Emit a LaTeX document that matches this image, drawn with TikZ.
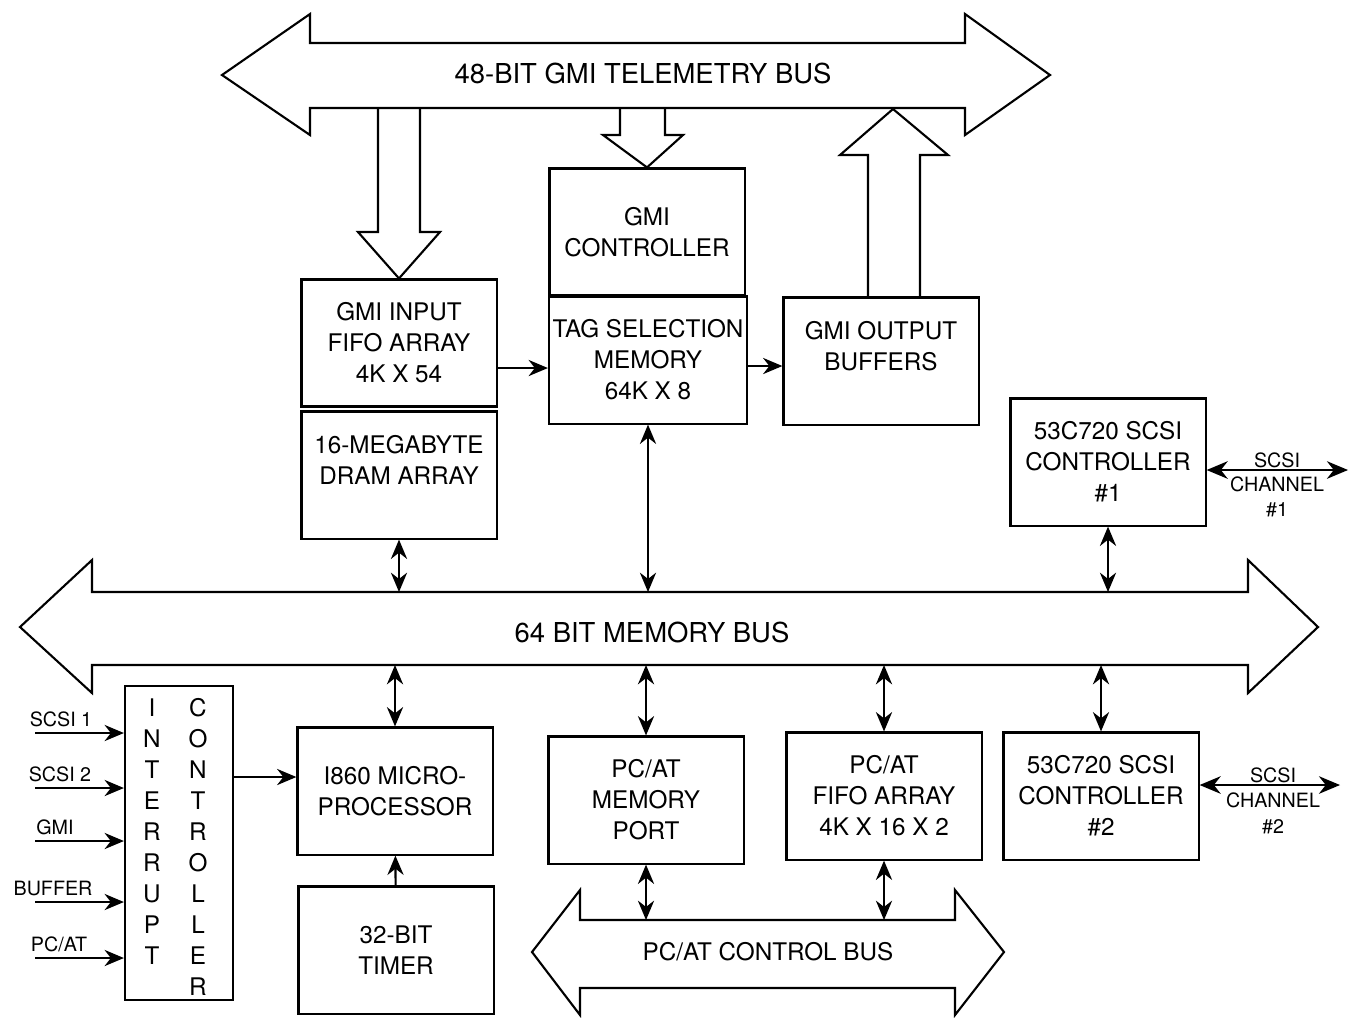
\documentclass[tikz,border=0pt]{standalone}
\usepackage{fontspec}
\setmainfont{TeX Gyre Heros}
\usetikzlibrary{arrows.meta}
\tikzset{
  blockbox/.style={draw, line width=0.6pt, minimum width=1.95cm, minimum height=1.27cm,
    inner sep=1pt, align=center, font=\fontsize{6.9}{8.8}\selectfont},
  boxtext/.style={inner sep=0pt, font=\fontsize{6.9}{8.8}\selectfont},
  busline/.style={line width=0.6pt, line join=miter},
  link/.style={line width=0.6pt, -{Stealth[length=5.5pt,width=4.6pt]}},
  duplex/.style={line width=0.6pt, {Stealth[length=5.5pt,width=4.6pt]}-{Stealth[length=5.5pt,width=4.6pt]}},
  channel/.style={line width=0.6pt, {Stealth[length=6pt,width=5pt]}-{Stealth[length=6pt,width=5pt]}},
  buslabel/.style={inner sep=0pt, font=\fontsize{7.8}{9}\selectfont},
  smalllabel/.style={inner sep=0pt, font=\fontsize{5.6}{6.6}\selectfont},
}

\begin{document}
\begin{tikzpicture}[x=0.01cm,y=-0.01cm]
  \useasboundingbox (0,0) rectangle (1358,1017);

  % les trois bus
  \draw[busline] (222,75) -- (310,14) -- (310,43) -- (965,43) -- (965,14) -- (1050,75)
    -- (965,135) -- (965,108) -- (310,108) -- (310,135) -- cycle;
  \node[buslabel] (gmibus) at (643,73) {48-BIT GMI TELEMETRY BUS};
  \draw[busline] (20,627) -- (92,560) -- (92,592) -- (1248,592) -- (1248,560) -- (1318,627)
    -- (1248,693) -- (1248,665) -- (92,665) -- (92,693) -- cycle;
  \node[buslabel] (membus) at (652,632) {64 BIT MEMORY BUS};
  \draw[busline] (532,952) -- (580,890) -- (580,920) -- (955,920) -- (955,890) -- (1004,952)
    -- (955,1015) -- (955,988) -- (580,988) -- (580,1015) -- cycle;
  \node[buslabel, font=\fontsize{6.9}{8}\selectfont] (ctlbus) at (768,952) {PC/AT CONTROL BUS};
  \coordinate (mb-top) at (0,592);
  \coordinate (mb-bot) at (0,665);
  \coordinate (cb-top) at (0,920);

  % blocs
  \node[blockbox] (ctrl) at (647,232) {GMI\\CONTROLLER};
  \node[blockbox] (tag) at (648,360) {TAG SELECTION\\MEMORY\\64K X 8};
  \node[blockbox] (fifo) at (399,343) {GMI INPUT\\FIFO ARRAY\\4K X 54};
  \node[blockbox] (dram) at (399,475) {16-MEGABYTE\\DRAM ARRAY\\\vphantom{X}};
  \node[blockbox] (outbuf) at (881,361) {GMI OUTPUT\\BUFFERS\\\vphantom{X}};
  \node[blockbox] (scsi1) at (1108,462) {53C720 SCSI\\CONTROLLER\\\#1};
  \node[blockbox] (cpu) at (395,791) {I860 MICRO-\\PROCESSOR};
  \node[blockbox] (timer) at (396,950) {32-BIT\\TIMER};
  \node[blockbox] (memport) at (646,800) {PC/AT\\MEMORY\\PORT};
  \node[blockbox] (atfifo) at (884,796) {PC/AT\\FIFO ARRAY\\4K X 16 X 2};
  \node[blockbox] (scsi2) at (1101,796) {53C720 SCSI\\CONTROLLER\\\#2};
  \node[blockbox, minimum width=1.08cm, minimum height=3.13cm] (intc) at (179,843) {};
  \foreach \c [count=\i] in {I,N,T,E,R,R,U,P,T}
    \node[boxtext] (int-\i) at (152,{677+31*\i}) {\c};
  \foreach \c [count=\i] in {C,O,N,T,R,O,L,L,E,R}
    \node[boxtext] (ctl-\i) at (198,{677+31*\i}) {\c};

  % fleches creuses du bus GMI
  \draw[busline] (378,108) -- (378,232) -- (358,232) -- (fifo.north) -- (440,232) -- (420,232) -- (420,108);
  \draw[busline] (620,108) -- (620,135) -- (603,135) -- (ctrl.north) -- (683,135) -- (665,135) -- (665,108);
  \draw[busline] (868,298) -- (868,155) -- (840,155) -- (893,109) -- (948,155) -- (920,155) -- (920,298);

  % liaisons
  \draw[link] ([yshift=-0.25cm]fifo.east) coordinate (f1) -- (f1 -| tag.west);
  \draw[link] ([yshift=-0.06cm]tag.east) coordinate (t1) -- (t1 -| outbuf.west);
  \draw[link] ([yshift=0.14cm]cpu.west -| intc.east) coordinate (i1) -- (i1 -| cpu.west);
  \draw[link] (timer) -- (cpu);
  \draw[duplex] (dram.south) -- (dram.south |- mb-top);
  \draw[duplex] (tag.south) -- (tag.south |- mb-top);
  \draw[duplex] (scsi1.south) -- (scsi1.south |- mb-top);
  \draw[duplex] (cpu.north) -- (cpu.north |- mb-bot);
  \draw[duplex] (memport.north) -- (memport.north |- mb-bot);
  \draw[duplex] (atfifo.north) -- (atfifo.north |- mb-bot);
  \draw[duplex] (scsi2.north) -- (scsi2.north |- mb-bot);
  \draw[duplex] (memport.south) -- (memport.south |- cb-top);
  \draw[duplex] (atfifo.south) -- (atfifo.south |- cb-top);

  % canaux SCSI
  \coordinate (ch1) at (1348,470);
  \draw[channel] (scsi1.east |- ch1) -- (ch1);
  \node[smalllabel] (ch1-a) at (1277,460) {SCSI};
  \node[smalllabel] (ch1-b) at (1277,484) {CHANNEL};
  \node[smalllabel] (ch1-c) at (1277,510) {\#1};
  \coordinate (ch2) at (1340,785);
  \draw[channel] (scsi2.east |- ch2) -- (ch2);
  \node[smalllabel] (ch2-a) at (1273,775) {SCSI};
  \node[smalllabel] (ch2-b) at (1273,800) {CHANNEL};
  \node[smalllabel] (ch2-c) at (1273,827) {\#2};

  % entrees d'interruption
  \foreach \lab/\y/\x [count=\i] in {{SCSI 1}/733/61, {SCSI 2}/788/60, GMI/841/55, BUFFER/902/53, {PC/AT}/958/59} {
    \coordinate (src\i) at (35,\y);
    \draw[link] (src\i) -- (src\i -| intc.west);
    \node[smalllabel] (srclab\i) at (\x,\y-14) {\lab};
  }
\end{tikzpicture}
\end{document}
